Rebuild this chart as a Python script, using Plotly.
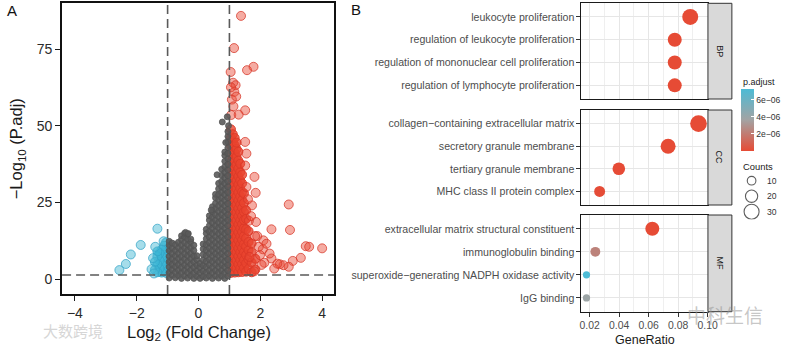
import math
import plotly.graph_objects as go

W, H = 800, 348
FONT = "Liberation Sans, Arial, sans-serif"

# ---------------- Panel A: volcano data ----------------
fc_cutoff = 1.0
padj_cutoff = 0.05

# non-significant genes (grey), listed column by column
gray_cols_x = [-0.95, -0.85, -0.75, -0.65, -0.55, -0.45, -0.35, -0.25, -0.15, -0.05,
               0.05, 0.15, 0.25, 0.35, 0.45, 0.55, 0.65, 0.75, 0.85, 0.95]
gray_cols_y = [
    [0.3, 2.1, 3.9, 5.6, 7.4, 9.2, 11.0, 12.3],
    [1.2, 3.0, 4.8, 6.5, 8.3, 10.1, 11.7],
    [0.4, 2.2, 4.0, 5.7, 7.5, 9.3, 11.2],
    [1.1, 2.9, 4.7, 6.6, 8.4, 10.2, 12.0],
    [0.2, 2.0, 3.8, 5.6, 7.4, 9.3, 11.1, 12.9, 14.1],
    [1.0, 2.8, 4.6, 6.5, 8.3, 10.1, 11.9, 13.7, 14.9],
    [0.3, 2.1, 3.9, 5.7, 7.6, 9.4, 11.2, 13.0, 14.6],
    [1.1, 2.9, 4.8, 6.6, 8.4, 10.2, 12.1, 13.0],
    [0.2, 2.0, 3.8, 5.6, 7.5, 9.3, 11.0],
    [0.9, 2.7, 4.5, 6.3, 7.6],
    [0.2, 2.0, 3.8, 5.1],
    [0.8, 2.6, 4.4, 6.2, 8.0, 9.8, 11.4],
    [0.3, 2.1, 3.9, 5.8, 7.6, 9.4, 11.2, 13.1, 14.9, 16.2],
    [1.0, 2.8, 4.6, 6.4, 8.3, 10.1, 11.9, 13.7, 15.5, 17.4, 19.2, 20.6],
    [0.2, 2.0, 3.8, 5.7, 7.5, 9.3, 11.1, 12.9, 14.8, 16.6, 18.4, 20.2, 22.0, 23.6],
    [1.0, 2.8, 4.7, 6.5, 8.3, 10.1, 11.9, 13.8, 15.6, 17.4, 19.2, 21.0, 22.9, 24.7, 26.5, 27.6],
    [0.3, 2.1, 3.9, 5.7, 7.6, 9.4, 11.2, 13.0, 14.8, 16.7, 18.5, 20.3, 22.1, 23.9, 25.8, 27.6,
     29.4, 31.2],
    [1.0, 2.8, 4.6, 6.5, 8.3, 10.1, 11.9, 13.7, 15.6, 17.4, 19.2, 21.0, 22.8, 24.7, 26.5, 28.3,
     30.1, 31.9, 33.8, 35.8],
    [0.2, 2.0, 3.9, 5.7, 7.5, 9.3, 11.1, 13.0, 14.8, 16.6, 18.4, 20.2, 22.1, 23.9, 25.7, 27.5,
     29.3, 31.2, 33.0, 34.8, 36.6, 38.4, 40.3, 41.4],
    [1.0, 2.8, 4.6, 6.4, 8.3, 10.1, 11.9, 13.7, 15.5, 17.4, 19.2, 21.0, 22.8, 24.6, 26.5, 28.3,
     30.1, 31.9, 33.7, 35.6, 37.4, 39.2, 41.0, 42.8, 44.7, 46.5, 48.1],
]
gray_extra_x = [0.93, 0.77, 0.60, 0.41, -0.42, -0.33, 0.88, 0.97]
gray_extra_y = [52.9, 51.2, 34.0, 22.5, 15.2, 14.8, 44.5, 50.0]

# up-regulated genes (red): dense core, listed column by column
red_cols_x = [1.05, 1.11, 1.17, 1.23, 1.29, 1.35, 1.41, 1.47, 1.54, 1.62, 1.72, 1.84]
red_cols_y = [
    [2.0, 4.5, 7.1, 9.8, 12.3, 14.9, 17.6, 20.2, 22.7, 25.4, 28.0, 30.5, 33.1, 35.8, 38.3, 41.0,
     43.5, 46.1, 48.8],
    [3.2, 5.8, 8.5, 11.0, 13.6, 16.3, 18.8, 21.5, 24.1, 26.6, 29.3, 31.8, 34.5, 37.0, 39.6, 42.3,
     44.8, 47.2],
    [2.1, 4.7, 7.3, 9.9, 12.5, 15.1, 17.7, 20.3, 22.9, 25.5, 28.1, 30.7, 33.3, 35.9, 38.5, 41.1,
     43.6, 46.0],
    [3.4, 6.0, 8.6, 11.2, 13.8, 16.4, 19.0, 21.6, 24.2, 26.8, 29.4, 32.0, 34.6, 37.2, 39.8, 42.4,
     44.5],
    [2.2, 4.8, 7.4, 10.0, 12.6, 15.2, 17.8, 20.4, 23.0, 25.6, 28.2, 30.8, 33.4, 36.0, 38.6, 41.5],
    [3.5, 6.1, 8.7, 11.3, 13.9, 16.5, 19.1, 21.7, 24.3, 26.9, 29.5, 32.1, 34.8, 37.6],
    [2.3, 4.9, 7.5, 10.1, 12.7, 15.3, 17.9, 20.5, 23.1, 25.7, 28.4, 31.2, 34.0],
    [3.6, 6.2, 8.8, 11.4, 14.0, 16.6, 19.2, 21.9, 24.8, 27.9],
    [2.4, 5.1, 7.8, 10.6, 13.3, 16.2, 19.6, 22.4],
    [3.3, 6.3, 9.4, 12.1, 15.6],
    [2.2, 5.4, 8.7, 11.6],
    [3.1, 6.6],
]
# up-regulated genes (red): scattered points
red_extra_x = [1.375, 1.15, 1.57, 1.78, 1.04, 1.12, 1.20, 1.16, 1.08, 1.13, 1.06, 1.51, 1.30,
               1.05, 1.22, 1.51, 1.55, 1.51, 1.81, 1.55, 1.85, 1.73, 2.92, 2.36, 2.96, 1.86,
               1.63, 2.10, 1.90, 3.47, 3.58, 4.00, 3.31, 3.05, 2.92, 2.36, 2.63, 2.45, 2.13,
               2.30, 1.80, 1.65, 2.04, 2.08, 1.83, 2.20, 1.95, 2.75, 2.55, 1.99, 1.70, 1.60]
red_extra_y = [85.8, 75.3, 68.1, 69.2, 67.5, 64.0, 63.2, 61.0, 58.5, 56.3, 53.5, 55.0, 53.6,
               62.5, 59.5, 44.7, 40.9, 37.0, 33.3, 30.0, 28.1, 24.0, 24.3, 16.2, 16.0, 18.6,
               19.0, 12.6, 14.0, 10.7, 10.5, 10.0, 6.9, 5.9, 4.0, 6.7, 4.8, 3.4, 5.3,
               8.3, 2.5, 7.2, 4.6, 9.7, 14.0, 11.5, 10.5, 4.5, 5.0, 7.8, 20.5, 26.0]

# down-regulated genes (blue)
blue_cols_x = [-1.05, -1.12, -1.19, -1.26, -1.33, -1.41]
blue_cols_y = [
    [2.0, 4.6, 7.2, 9.8, 11.9],
    [3.3, 5.9, 8.5, 10.8],
    [2.1, 4.7, 7.3, 9.6],
    [3.4, 6.0, 8.4],
    [2.2, 4.8, 7.4, 9.0],
    [3.0, 5.6],
]
blue_extra_x = [-2.56, -2.35, -2.19, -1.87, -1.33, -1.40, -1.13, -1.47, -1.52, -1.44]
blue_extra_y = [2.9, 4.9, 8.0, 11.1, 16.4, 10.5, 12.3, 6.8, 3.2, 1.8]


def flatten(cols_x, cols_y):
    xs = [x for x, ys in zip(cols_x, cols_y) for _ in ys]
    ys = [y for ys_ in cols_y for y in ys_]
    return xs, ys


gray_x, gray_y = flatten(gray_cols_x, gray_cols_y)
gray_x += gray_extra_x
gray_y += gray_extra_y
red_core_x, red_core_y = flatten(red_cols_x, red_cols_y)
blue_core_x, blue_core_y = flatten(blue_cols_x, blue_cols_y)

# ---------------- Panel B: GO enrichment data ----------------
bp_terms = ["leukocyte proliferation", "regulation of leukocyte proliferation",
            "regulation of mononuclear cell proliferation",
            "regulation of lymphocyte proliferation"]
bp_ratio = [0.0882, 0.0777, 0.0777, 0.0777]
bp_count = [34, 26, 26, 26]
bp_padj = [1.0e-9, 1.5e-9, 1.6e-9, 1.7e-9]

cc_terms = ["collagen\u2212containing extracellular matrix", "secretory granule membrane",
            "tertiary granule membrane", "MHC class II protein complex"]
cc_ratio = [0.0938, 0.0732, 0.0398, 0.0268]
cc_count = [37, 30, 21, 16]
cc_padj = [2e-12, 5e-9, 2e-8, 6e-8]

mf_terms = ["extracellular matrix structural constituent", "immunoglobulin binding",
            "superoxide\u2212generating NADPH oxidase activity", "IgG binding"]
mf_ratio = [0.0625, 0.0239, 0.0179, 0.0179]
mf_count = [26, 13, 7, 7]
mf_padj = [3e-10, 2.3e-6, 7.3e-6, 3.9e-6]

facet_names = ["BP", "CC", "MF"]
count_legend = [10, 20, 30]
padj_ticks = [2e-6, 4e-6, 6e-6]
padj_ticktext = ["2e\u221206", "4e\u221206", "6e\u221206"]

all_padj = bp_padj + cc_padj + mf_padj
cmin, cmax = min(all_padj), max(all_padj)
colorscale = [[0.0, "#E64B35"], [0.5, "#A3A3A3"], [1.0, "#4DBBD5"]]


def dot_size(c):
    return 2.74 * math.sqrt(c)


def fx(p):
    return p / W


def fy(p):
    return 1 - p / H


fig = go.Figure()

# volcano traces
fig.add_trace(go.Scatter(
    x=red_core_x, y=red_core_y, mode="markers", xaxis="x", yaxis="y", showlegend=False,
    marker=dict(size=9, color="rgba(232,68,46,0.8)",
                line=dict(color="rgba(220,58,40,0.9)", width=1)),
    hoverinfo="skip"))
fig.add_trace(go.Scatter(
    x=red_extra_x, y=red_extra_y, mode="markers", xaxis="x", yaxis="y", showlegend=False,
    marker=dict(size=9, color="rgba(232,72,50,0.45)",
                line=dict(color="rgba(215,55,40,0.75)", width=1)),
    hoverinfo="skip"))
fig.add_trace(go.Scatter(
    x=blue_core_x, y=blue_core_y, mode="markers", xaxis="x", yaxis="y", showlegend=False,
    marker=dict(size=9, color="rgba(60,182,212,0.75)",
                line=dict(color="rgba(50,165,200,0.85)", width=1)),
    hoverinfo="skip"))
fig.add_trace(go.Scatter(
    x=blue_extra_x, y=blue_extra_y, mode="markers", xaxis="x", yaxis="y", showlegend=False,
    marker=dict(size=9, color="rgba(77,187,213,0.5)",
                line=dict(color="rgba(55,165,200,0.75)", width=1)),
    hoverinfo="skip"))
fig.add_trace(go.Scatter(
    x=gray_x, y=gray_y, mode="markers", xaxis="x", yaxis="y", showlegend=False,
    marker=dict(size=6, color="rgba(90,90,90,0.9)",
                line=dict(color="rgba(82,82,82,0.95)", width=0.8)),
    hoverinfo="skip"))

# dot plot traces
facets = [(bp_terms, bp_ratio, bp_count, bp_padj, "x2", "y2"),
          (cc_terms, cc_ratio, cc_count, cc_padj, "x3", "y3"),
          (mf_terms, mf_ratio, mf_count, mf_padj, "x4", "y4")]
for i, (terms, ratio, count, padj, xa, ya) in enumerate(facets):
    marker = dict(size=[dot_size(c) for c in count], color=padj, colorscale=colorscale,
                  cmin=cmin, cmax=cmax, line=dict(width=0), opacity=1)
    if i == 0:
        marker["showscale"] = True
        marker["colorbar"] = dict(
            x=fx(750.7), xanchor="left", y=fy(119.5), yanchor="middle",
            len=61.5, lenmode="pixels", thickness=13.3, thicknessmode="pixels",
            xpad=0, ypad=0, outlinewidth=0, ticks="inside", ticklen=3,
            tickcolor="white", tickwidth=1, tickmode="array",
            tickvals=padj_ticks, ticktext=padj_ticktext,
            tickfont=dict(family=FONT, size=8.6, color="#333333"))
    else:
        marker["showscale"] = False
    fig.add_trace(go.Scatter(
        x=ratio, y=list(range(1, len(terms) + 1)), mode="markers", xaxis=xa, yaxis=ya,
        marker=marker, showlegend=False, hoverinfo="skip"))

# size legend (hidden axes)
fig.add_trace(go.Scatter(
    x=[0.5] * len(count_legend), y=list(range(len(count_legend))), mode="markers",
    xaxis="x5", yaxis="y5", showlegend=False, hoverinfo="skip",
    marker=dict(size=[dot_size(c) for c in count_legend], color="rgba(0,0,0,0)",
                line=dict(color="#1a1a1a", width=1.1))))

axis_common_A = dict(showline=True, mirror=True, linecolor="#111111", linewidth=1.8,
                     ticks="outside", ticklen=5, tickwidth=1.2, tickcolor="#1a1a1a",
                     showgrid=False, zeroline=False,
                     tickfont=dict(family=FONT, size=14, color="#2a2a2a"))

layout = dict(
    width=W, height=H, margin=dict(l=0, r=0, t=0, b=0),
    paper_bgcolor="white", plot_bgcolor="white",
    font=dict(family=FONT),
    xaxis=dict(domain=[fx(61), fx(337)], anchor="y", range=[-4.414, 4.382],
               tickmode="array", tickvals=[-4, -2, 0, 2, 4],
               ticktext=["\u22124", "\u22122", "0", "2", "4"], **axis_common_A),
    yaxis=dict(domain=[fy(294), fy(3)], anchor="x", range=[-4.89, 90.0],
               tickmode="array", tickvals=[0, 25, 50, 75], **axis_common_A),
)

xr = [0.0145, 0.1002]
panel_y = [(3.3, 99.0), (110.0, 205.0), (215.0, 311.7)]
for i, (terms, *_rest) in enumerate(facets):
    n = i + 2
    top, bot = panel_y[i]
    layout[f"xaxis{n}"] = dict(
        domain=[fx(588.3), fx(716.7)], anchor=f"y{n}", range=xr,
        tickmode="linear", tick0=0.02, dtick=0.02, tickformat=".2f",
        showticklabels=(n == 4), ticks="outside" if n == 4 else "",
        ticklen=4, tickwidth=1, tickcolor="#333333",
        tickfont=dict(family=FONT, size=10.4, color="#4D4D4D"),
        showgrid=True, gridcolor="#E6E6E6", gridwidth=1,
        minor=dict(dtick=0.01, tick0=0.01, showgrid=True, gridcolor="#EFEFEF",
                   gridwidth=0.6, ticks=""),
        showline=True, mirror=True, linecolor="#1a1a1a", linewidth=1.1, zeroline=False)
    layout[f"yaxis{n}"] = dict(
        domain=[fy(bot), fy(top)], anchor=f"x{n}", range=[len(terms) + 0.6, 0.4],
        tickmode="array", tickvals=list(range(1, len(terms) + 1)), ticktext=terms,
        ticks="outside", ticklen=4, tickwidth=1, tickcolor="#333333",
        tickfont=dict(family=FONT, size=10.6, color="#4D4D4D"),
        showgrid=True, gridcolor="#E6E6E6", gridwidth=1,
        showline=True, mirror=True, linecolor="#1a1a1a", linewidth=1.1, zeroline=False)

layout["xaxis5"] = dict(domain=[fx(745), fx(777)], anchor="y5", range=[0, 1], visible=False)
layout["yaxis5"] = dict(domain=[fy(219.45), fy(172.95)], anchor="x5",
                        range=[len(count_legend) - 0.5, -0.5], visible=False)

shapes = []
dash_line = dict(color="#5a5a5a", width=1.6, dash="9px,5px")
for xv in (-fc_cutoff, fc_cutoff):
    shapes.append(dict(type="line", xref="x", yref="y domain", x0=xv, x1=xv, y0=0, y1=1,
                       line=dash_line, layer="above"))
hy = -math.log10(padj_cutoff)
shapes.append(dict(type="line", xref="x domain", yref="y", x0=0, x1=1, y0=hy, y1=hy,
                   line=dash_line, layer="above"))
for (top, bot) in panel_y:
    shapes.append(dict(type="rect", xref="paper", yref="paper", x0=fx(716.7), x1=fx(741),
                       y0=fy(bot), y1=fy(top), fillcolor="#D9D9D9",
                       line=dict(color="#333333", width=1), layer="above"))

annotations = [
    dict(text="A", x=fx(3), y=fy(10), xref="paper", yref="paper", xanchor="left",
         yanchor="middle", showarrow=False, font=dict(family=FONT, size=15, color="#111")),
    dict(text="B", x=fx(352), y=fy(9.5), xref="paper", yref="paper", xanchor="left",
         yanchor="middle", showarrow=False, font=dict(family=FONT, size=15, color="#111")),
    dict(text="Log<sub>2</sub> (Fold Change)", x=fx(200), y=fy(333), xref="paper",
         yref="paper", xanchor="center", yanchor="middle", showarrow=False,
         font=dict(family=FONT, size=16.5, color="#1a1a1a")),
    dict(text="\u2212Log<sub>10</sub> (P.adj)", x=fx(15), y=fy(148.5), xref="paper",
         yref="paper", xanchor="center", yanchor="middle", textangle=-90, showarrow=False,
         font=dict(family=FONT, size=16.5, color="#1a1a1a")),
    dict(text="GeneRatio", x=fx(652.5), y=fy(340), xref="paper", yref="paper",
         xanchor="center", yanchor="middle", showarrow=False,
         font=dict(family=FONT, size=12.5, color="#1a1a1a")),
    dict(text="p.adjust", x=fx(750.5), y=fy(82), xref="paper", yref="paper",
         xanchor="left", yanchor="middle", showarrow=False,
         font=dict(family=FONT, size=9, color="#1a1a1a")),
    dict(text="Counts", x=fx(750.5), y=fy(166.7), xref="paper", yref="paper",
         xanchor="left", yanchor="middle", showarrow=False,
         font=dict(family=FONT, size=9.4, color="#1a1a1a")),
]
for i, (top, bot) in enumerate(panel_y):
    annotations.append(dict(text=facet_names[i], x=fx(728.85), y=fy((top + bot) / 2),
                            xref="paper", yref="paper", xanchor="center", yanchor="middle",
                            textangle=90, showarrow=False,
                            font=dict(family=FONT, size=9, color="#1a1a1a")))
for i, c in enumerate(count_legend):
    annotations.append(dict(text=str(c), x=fx(775), y=i, xref="paper", yref="y5",
                            xanchor="left", yanchor="middle", showarrow=False,
                            font=dict(family=FONT, size=8.6, color="#333333")))
# watermarks present in the source image
annotations.append(dict(text="大数跨境", x=fx(72), y=fy(330), xref="paper", yref="paper",
                        xanchor="center", yanchor="middle", showarrow=False,
                        font=dict(family="Noto Sans CJK SC", size=15, color="#D6D6D6")))
annotations.append(dict(text="中科生信", x=fx(734), y=fy(314), xref="paper", yref="paper",
                        xanchor="center", yanchor="middle", showarrow=False,
                        font=dict(family="Noto Sans CJK SC", size=19,
                                  color="rgba(150,150,150,0.55)")))

layout["shapes"] = shapes
layout["annotations"] = annotations
fig.update_layout(**layout)
fig.write_html("out.html")
